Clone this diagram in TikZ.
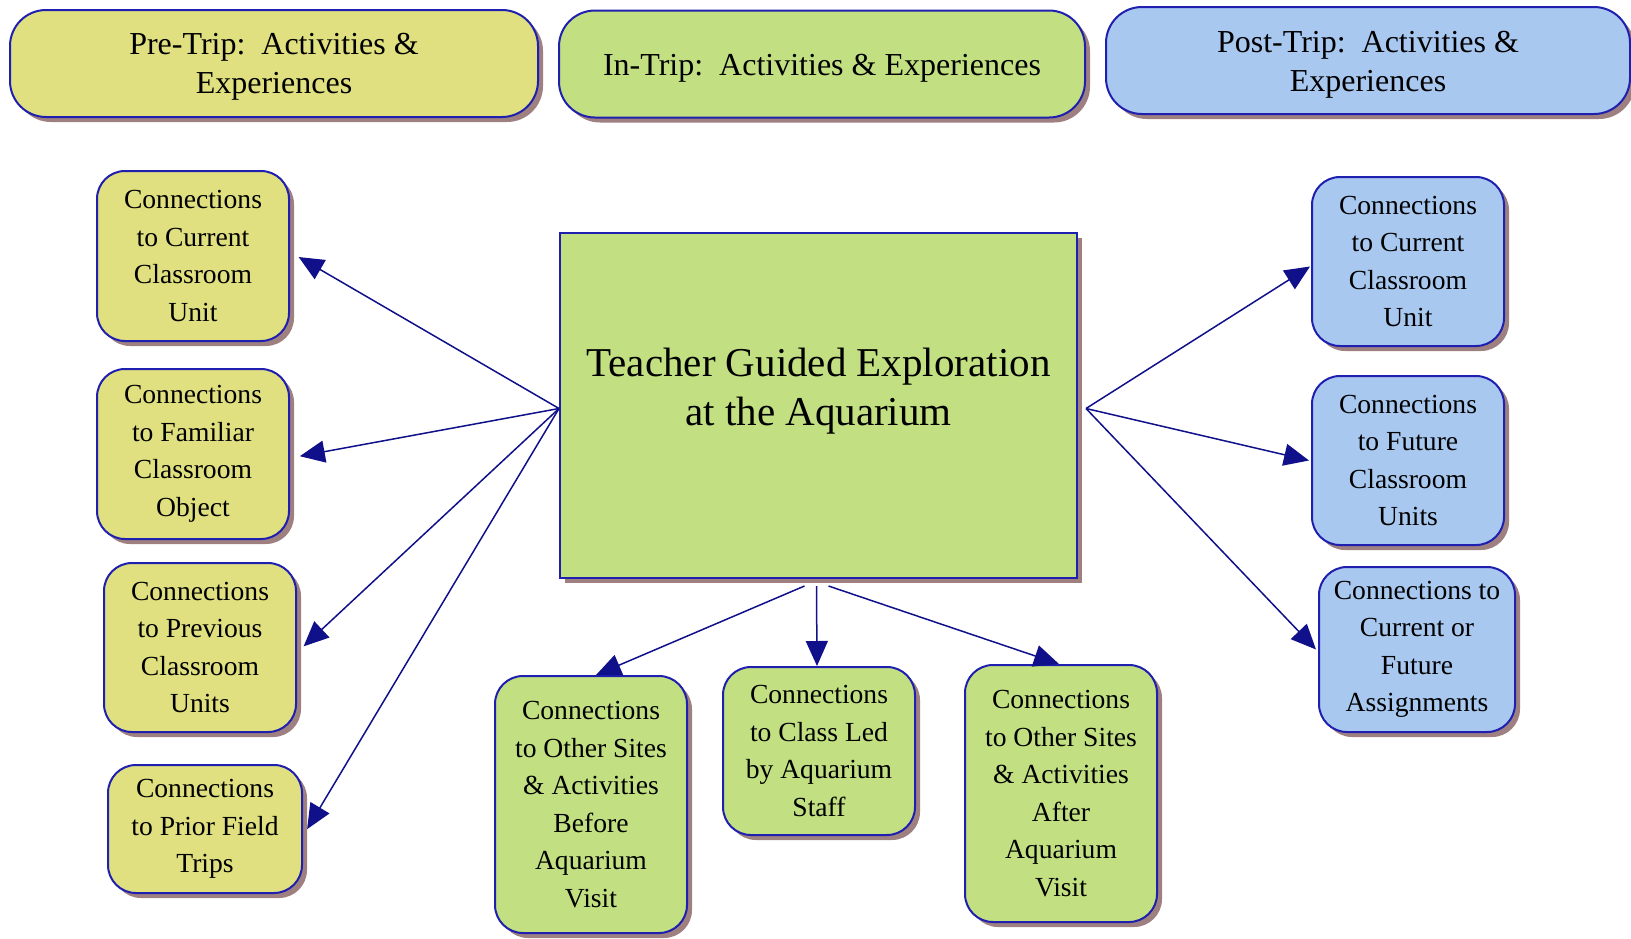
\documentclass[tikz,border=0pt]{standalone}
\usepackage{fontspec}
\setmainfont{Liberation Serif}
\usetikzlibrary{arrows.meta,shadows}
\definecolor{yel}{HTML}{E0E080}
\definecolor{grn}{HTML}{C2E082}
\definecolor{blu}{HTML}{A8C8F0}
\definecolor{bord}{HTML}{2020B0}
\definecolor{shad}{HTML}{9E8080}
\definecolor{arrc}{HTML}{10108A}
\tikzset{
  shbox/.style={draw=bord, line width=2pt, inner sep=0pt, align=center,
    drop shadow={shadow xshift=5pt, shadow yshift=-5pt, fill=shad, opacity=1}},
  smallbox/.style={shbox, rounded corners=28pt, minimum width=192pt,
    font=\fontsize{27.6pt}{37.5pt}\selectfont},
  headbox/.style={shbox, rounded corners=36pt, minimum width=526pt, minimum height=107pt},
  headtext/.style={align=center, inner sep=0pt, font=\fontsize{32pt}{39.5pt}\selectfont},
  arr/.style={draw=arrc, line width=1.5pt, -{Triangle[length=25pt,width=22pt]}}
}
\begin{document}
\begin{tikzpicture}[x=1pt,y=-1pt]
\useasboundingbox (0,0) rectangle (1631,938);
% headers
\node[headbox, fill=yel, minimum width=528pt] (pre) at (274,63.5) {};
\node[headtext] (pretext) at (274,67) {Pre-Trip:\ \ Activities \&\\Experiences};
\node[headbox, fill=grn] (in) at (822,64) {};
\node[headtext] (intext) at (822,68) {In-Trip:\ \ Activities \& Experiences};
\node[headbox, fill=blu, minimum width=524pt] (post) at (1368,60.5) {};
\node[headtext] (posttext) at (1368,65) {Post-Trip:\ \ Activities \&\\Experiences};
% center
\node[shbox, fill=grn, minimum width=517pt, minimum height=345pt] (center) at (818.5,405.5) {};
\node[font=\fontsize{41pt}{49pt}\selectfont, align=center] (ctext) at (818.5,391) {Teacher Guided Exploration\\at the Aquarium};
% left
\node[smallbox, fill=yel, minimum height=170pt] (L1) at (193,256) {Connections\\to Current\\Classroom\\Unit};
\node[smallbox, fill=yel, minimum height=170pt] (L2) at (193,454) {Connections\\to Familiar\\Classroom\\Object};
\node[smallbox, fill=yel, minimum height=169pt] (L3) at (200,647.5) {Connections\\to Previous\\Classroom\\Units};
\node[smallbox, fill=yel, minimum height=128pt, minimum width=194pt] (L4) at (205,829) {Connections\\to Prior Field\\Trips};
% bottom
\node[smallbox, fill=grn, minimum height=257pt] (B1) at (591,804.5) {Connections\\to Other Sites\\\& Activities\\Before\\Aquarium\\Visit};
\node[smallbox, fill=grn, minimum height=168pt] (B2) at (819,751) {Connections\\to Class Led\\by Aquarium\\Staff};
\node[smallbox, fill=grn, minimum height=257pt] (B3) at (1061,793.5) {Connections\\to Other Sites\\\& Activities\\After\\Aquarium\\Visit};
% right
\node[smallbox, fill=blu, minimum height=169pt] (R1) at (1408,261.5) {Connections\\to Current\\Classroom\\Unit};
\node[smallbox, fill=blu, minimum height=169pt] (R2) at (1408,460.5) {Connections\\to Future\\Classroom\\Units};
\node[smallbox, fill=blu, minimum height=165pt, minimum width=196pt] (R3) at (1417,649.5) {Connections to\\Current or\\Future\\Assignments};
% arrows
\draw[arr, shorten >=10pt] ([yshift=-3pt]center.west) -- ([yshift=4pt]L1.east);
\draw[arr, shorten >=10pt] ([yshift=-3pt]center.west) -- ([yshift=-4pt]L2.east);
\draw[arr, shorten >=9pt] ([yshift=-3pt]center.west) -- ([yshift=-5pt]L3.east);
\draw[arr, shorten >=8pt] ([yshift=-3pt]center.west) -- ([yshift=-7pt]L4.east);
\draw[arr] ([xshift=-14pt,yshift=-7pt]center.south) -- ([xshift=5pt]B1.north);
\draw[arr] ([xshift=-2pt,yshift=-7pt]center.south) -- ([xshift=-2pt]B2.north);
\draw[arr] ([xshift=10pt,yshift=-7pt]center.south) -- ([xshift=-2pt]B3.north);
\draw[arr] ([xshift=8pt,yshift=-3pt]center.east) -- ([yshift=-5pt,xshift=-1pt]R1.west);
\draw[arr] ([xshift=8pt,yshift=-3pt]center.east) -- ([xshift=-2pt]R2.west);
\draw[arr] ([xshift=8pt,yshift=-3pt]center.east) -- ([xshift=-2pt]R3.west);
\end{tikzpicture}
\end{document}
